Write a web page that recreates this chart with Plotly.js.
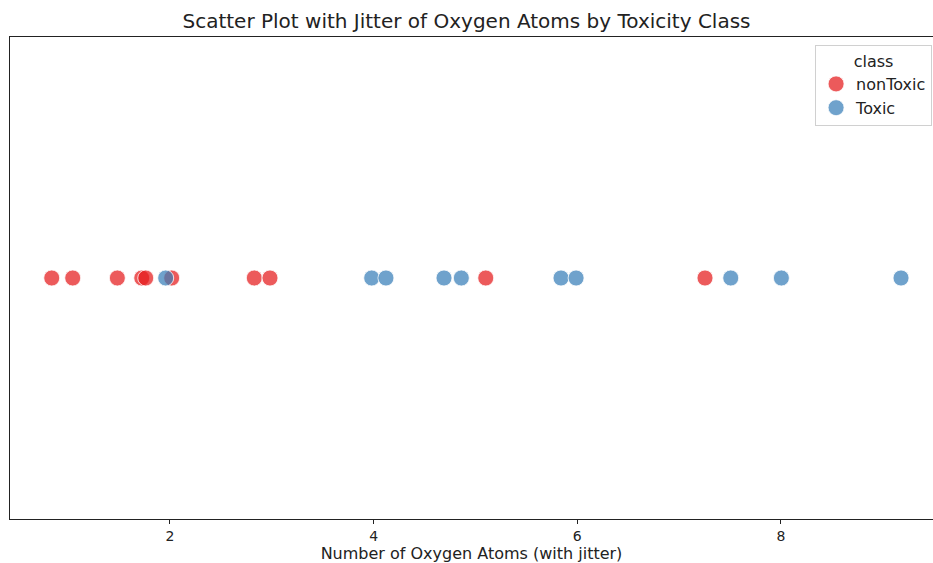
<!DOCTYPE html>
<html>
<head>
<meta charset="utf-8">
<script src="https://cdn.plot.ly/plotly-3.0.1.min.js"></script>
<style>html,body{margin:0;padding:0;background:#fff;}#chart{width:933px;height:563px;}</style>
</head>
<body>
<div id="chart"></div>
<script>
// Data (x positions with jitter; y constant)
const nonToxicX = [0.839, 1.045, 1.483, 1.723, 1.762, 2.017, 2.828, 2.982, 5.101, 7.254];
const toxicX = [1.958, 3.981, 4.121, 4.691, 4.861, 5.840, 5.988, 7.507, 8.004, 9.179];
const nonToxicY = nonToxicX.map(() => 0);
const toxicY = toxicX.map(() => 0);
const tickVals = [2, 4, 6, 8];
const tickText = ['2', '4', '6', '8'];

const font = 'DejaVu Sans, sans-serif';
const traces = [
  {
    x: nonToxicX, y: nonToxicY, type: 'scatter', mode: 'markers', name: 'nonToxic',
    marker: {color: 'rgba(228,26,28,0.72)', size: 16, line: {color: 'rgba(255,255,255,0.8)', width: 1}}
  },
  {
    x: toxicX, y: toxicY, type: 'scatter', mode: 'markers', name: 'Toxic',
    marker: {color: 'rgba(55,126,184,0.72)', size: 16, line: {color: 'rgba(255,255,255,0.8)', width: 1}}
  }
];

const layout = {
  width: 933, height: 563,
  margin: {l: 10, r: 0, t: 37, b: 44, pad: 0},
  paper_bgcolor: '#fff', plot_bgcolor: '#fff',
  font: {family: font, color: '#222', size: 14},
  title: {text: 'Scatter Plot with Jitter of Oxygen Atoms by Toxicity Class', font: {family: font, size: 20, color: '#222'}, x: 0.5, xanchor: 'center', y: 0.962, yanchor: 'middle'},
  xaxis: {
    range: [0.429, 9.493], tickvals: tickVals, ticktext: tickText,
    showgrid: false, zeroline: false, showline: true, linecolor: '#222', linewidth: 1.3, mirror: true,
    ticks: 'outside', ticklen: 4, tickcolor: '#222', tickfont: {family: font, size: 14, color: '#222'},
    title: {text: 'Number of Oxygen Atoms (with jitter)', font: {family: font, size: 16, color: '#222'}, standoff: 2}
  },
  yaxis: {
    range: [-1, 1], showticklabels: false, ticks: '', showgrid: false, zeroline: false,
    showline: true, linecolor: '#222', linewidth: 1.3, mirror: false
  },
  showlegend: true,
  legend: {
    x: 0.999, xanchor: 'right', y: 0.983, yanchor: 'top',
    bgcolor: 'rgba(255,255,255,0.9)', bordercolor: '#d0d0d0', borderwidth: 1,
    font: {family: font, size: 16, color: '#222'},
    title: {text: 'class', side: 'top center', font: {family: font, size: 16, color: '#222'}},
    itemsizing: 'trace', tracegroupgap: 0
  }
};

Plotly.newPlot('chart', traces, layout, {displayModeBar: false, staticPlot: true});
</script>
</body>
</html>
